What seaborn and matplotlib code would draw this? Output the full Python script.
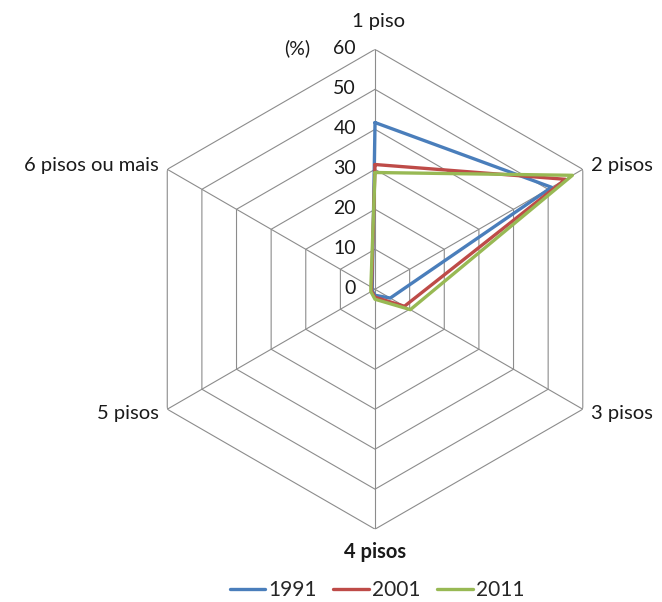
import numpy as np
import pandas as pd
import matplotlib
matplotlib.use("Agg")
import matplotlib.pyplot as plt
import seaborn as sns

# ── Data ──────────────────────────────────────────────────────────────────────
categorias = ["1 piso", "2 pisos", "3 pisos", "4 pisos", "5 pisos", "6 pisos ou mais"]
anos = ["1991", "2001", "2011"]
v1991 = [41.7, 51.0, 4.4, 1.5, 0.8, 0.8]
v2001 = [31.2, 55.0, 8.5, 2.0, 1.0, 1.0]
v2011 = [29.2, 57.0, 10.2, 2.5, 1.2, 1.2]
niveis = [0, 10, 20, 30, 40, 50, 60]

CORES = {"1991": "#4a7ebb", "2001": "#be4b48", "2011": "#98b954"}
GRID = "#8c8c8c"
TXT = "#1a1a1a"

sns.set_style("white")
plt.rcParams["font.family"] = ["Lato", "DejaVu Sans"]

n = len(categorias)
ang = np.linspace(0, 2 * np.pi, n, endpoint=False)
ang_fech = np.append(ang, ang[0])

linhas = []
for ano, vals in zip(anos, [v1991, v2001, v2011]):
    vv = list(vals) + [vals[0]]
    for i, (t, v) in enumerate(zip(ang_fech, vv)):
        linhas.append({"ano": ano, "ordem": i, "theta": t, "valor": v})
df = pd.DataFrame(linhas)

# ── Figure ────────────────────────────────────────────────────────────────────
fig = plt.figure(figsize=(6.62, 6.02), dpi=100, facecolor="white")
ax = fig.add_axes([0.204, 0.121, 0.725, 0.797], projection="polar")
ax.set_theta_zero_location("N")
ax.set_theta_direction(-1)
ax.set_ylim(0, 60)
ax.grid(False)
ax.spines["polar"].set_visible(False)
ax.set_xticks([])
ax.set_yticks([])
ax.set_facecolor("none")

# hexagonal grid + spokes
for r in niveis[1:]:
    ax.plot(ang_fech, [r] * len(ang_fech), color=GRID, lw=0.8, zorder=1)
for t in ang:
    ax.plot([t, t], [0, 60], color=GRID, lw=0.8, zorder=1)

sns.lineplot(data=df, x="theta", y="valor", hue="ano", palette=CORES,
             estimator=None, sort=False, units="ano", lw=2.4, ax=ax,
             legend=False, zorder=3)
ax.set_xlabel("")
ax.set_ylabel("")

# axis labels (figure pixel coords)
W, H = 662, 602
def ftxt(x, y, s, ha, size=14.5, **kw):
    fig.text(x / W, 1 - y / H, s, ha=ha, va="center", fontsize=size, color=TXT, **kw)

ftxt(378, 22, "1 piso", "center")
ftxt(591, 165, "2 pisos", "left")
ftxt(591, 413, "3 pisos", "left")
ftxt(375, 552, "4 pisos", "center", fontweight="bold")
ftxt(159, 413, "5 pisos", "right")
ftxt(159, 165, "6 pisos ou mais", "right")

# radial tick labels
for r in niveis:
    ftxt(356, 289 - r * 4, str(r), "right", size=14)
ftxt(297, 48, "(%)", "center", size=14)

# legend
handles = [plt.Line2D([0], [0], color=CORES[a], lw=2.4) for a in anos]
fig.legend(handles, anos, loc="center", bbox_to_anchor=(377 / W, 1 - 590 / H),
           ncol=3, frameon=False, fontsize=15, handlelength=1.7,
           handletextpad=0.15, columnspacing=0.8)

fig.savefig("out.png", dpi=100, facecolor="white")
plt.close(fig)
